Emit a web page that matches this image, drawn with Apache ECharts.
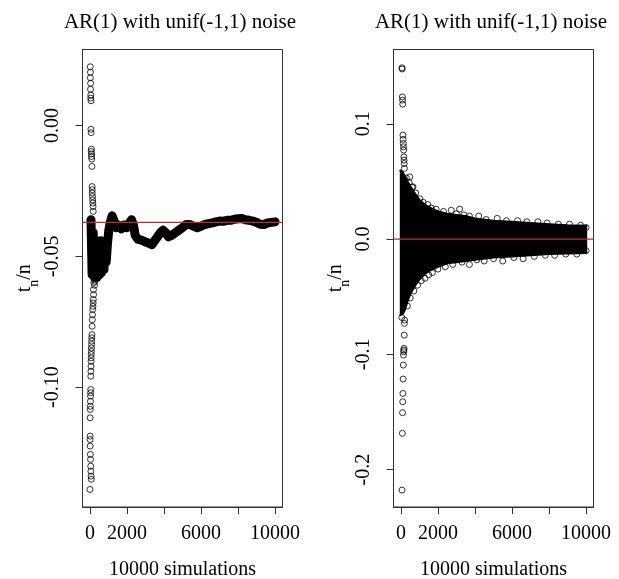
<!DOCTYPE html>
<html>
<head>
<meta charset="utf-8">
<script src="https://cdn.jsdelivr.net/npm/echarts@6/dist/echarts.min.js"></script>
<style>
html,body{margin:0;padding:0;background:#fff;}
#chart{width:619px;height:579px;}
</style>
</head>
<body>
<div id="chart"></div>
<script>
// ---------------- data ----------------
const chartTitle = 'AR(1) with unif(-1,1) noise';
const xAxisTitle = '10000 simulations';
const xTicks = [0, 2000, 4000, 6000, 8000, 10000];
const xTickLabels = [0, 2000, 6000, 10000];
const leftYTicks = [-0.10, -0.05, 0.00];
const rightYTicks = [-0.2, -0.1, 0.0, 0.1];
const leftTrueValue = -0.037;
const rightTrueValue = 0;

// left panel: sparse early running means (column near n = 0)
const leftEarlyX = [20, 30, 25, 40, 35, 50, 45, 60, 55, 70, 80, 75, 90, 85, 100, 110, 120, 130, 125, 140, 150, 160, 170, 180,
  190, 200, 185, 175, 165, 150, 140, 130, 120, 110, 100, 95, 90, 85, 80, 75, 70, 65, 60, 55, 50, 45, 40, 35, 30, 25, 20, 15, 12, 10,
  210, 230, 250, 270, 220, 240];
const leftEarlyY = [0.0225, 0.0204, 0.0183, 0.0162, 0.0139, 0.0117, 0.0105, 0.0095, -0.0014, -0.0027, -0.0090, -0.0099, -0.0108, -0.0118, -0.0128, -0.0156, -0.0233, -0.0245, -0.0258, -0.0271, -0.0284, -0.0296, -0.0309, -0.0328,
  -0.0627, -0.0646, -0.0665, -0.0678, -0.0691, -0.0703, -0.0723, -0.0742, -0.0767, -0.0799, -0.0811, -0.0824, -0.0837, -0.0850, -0.0863, -0.0875, -0.0888, -0.0901, -0.0920, -0.0939, -0.0958, -0.1009, -0.1021, -0.1034, -0.1054, -0.1073, -0.1085, -0.1117, -0.1187, -0.1200,
  -0.0600, -0.0585, -0.0610, -0.0595, -0.0560, -0.0575];
const leftEarlyX2 = [15, 25, 35, 45, 55, 65, 75, 5];
const leftEarlyY2 = [-0.1225, -0.1257, -0.1276, -0.1302, -0.1321, -0.1340, -0.1352, -0.1391];

// left panel: running mean path (dense band)
const leftPathX = [60, 120, 180, 250, 320, 380, 450, 520, 580, 640, 700, 760, 820, 880, 950, 1020, 1100, 1200, 1280, 1400, 1550, 1700, 1850, 2000, 2150, 2250, 2350, 2450, 2600, 2800, 3000, 3200, 3350, 3500, 3650, 3800, 3950, 4100, 4250, 4400, 4600, 4800, 5000, 5200, 5400, 5600, 5800, 6000, 6200, 6400, 6600, 6800, 7000, 7200, 7400, 7600, 7800, 8000, 8200, 8400, 8600, 8800, 9000, 9200, 9400, 9600, 9800, 10000];
const leftPathY = [-0.036, -0.057, -0.041, -0.058, -0.044, -0.058, -0.046, -0.057, -0.044, -0.056, -0.046, -0.055, -0.048, -0.052, -0.045, -0.040, -0.037, -0.0345, -0.036, -0.039, -0.038, -0.0395, -0.038, -0.039, -0.037, -0.036, -0.038, -0.042, -0.0435, -0.0438, -0.0445, -0.045, -0.0455, -0.044, -0.0425, -0.041, -0.040, -0.041, -0.0425, -0.042, -0.041, -0.040, -0.039, -0.0378, -0.0378, -0.0385, -0.039, -0.0385, -0.0378, -0.0375, -0.0372, -0.0368, -0.0365, -0.0366, -0.0362, -0.0362, -0.0358, -0.0356, -0.0355, -0.0360, -0.0362, -0.0365, -0.0370, -0.0377, -0.0378, -0.0372, -0.0370, -0.0368];

// right panel: envelope of the dense cloud
const rightEnvX = [-60, 100, 200, 300, 400, 500, 700, 1000, 1300, 1600, 2000, 2500, 3000, 3500, 4000, 5000, 6000, 7000, 8000, 9000, 10060];
const rightUpper = [0.060, 0.058, 0.055, 0.052, 0.049, 0.046, 0.041, 0.034, 0.030, 0.027, 0.024, 0.022, 0.021, 0.020, 0.018, 0.016, 0.015, 0.014, 0.013, 0.012, 0.0115];
const rightLower = [-0.066, -0.065, -0.062, -0.057, -0.052, -0.048, -0.042, -0.035, -0.030, -0.027, -0.024, -0.021, -0.020, -0.019, -0.018, -0.016, -0.015, -0.014, -0.013, -0.0125, -0.012];

// right panel: sparse early circles
const rightOutX = [60, 70, 80, 90, 100, 110, 120, 130, 140, 150, 160, 170, 180, 190, 480, 650,
  200, 190, 180, 170, 160, 150, 140, 130, 120, 110, 100, 90, 80, 60, 50];
const rightOutY = [0.1486, 0.1476, 0.1234, 0.1206, 0.1171, 0.0902, 0.0865, 0.0830, 0.0801, 0.0772, 0.0714, 0.0685, 0.0656, 0.0613, 0.054, 0.0454,
  -0.0703, -0.0731, -0.0833, -0.0948, -0.0963, -0.0977, -0.1006, -0.1093, -0.1214, -0.1339, -0.1411, -0.1506, -0.1685, -0.2177, -0.0680];

// right panel: circles along the edges of the cloud
const rightEdgeX = [300, 450, 600, 800, 1020, 1200, 1450, 1640, 1900, 2300, 2720, 3000, 3170, 3400, 3700, 4200, 4600, 5200, 5700, 6300, 6800, 7400, 7900, 8500, 9100, 9700, 10000,
  350, 500, 700, 900, 1100, 1300, 1500, 1700, 2000, 2400, 2800, 3300, 3700, 4100, 4500, 5000, 5500, 6100, 6600, 7200, 7800, 8300, 8900, 9500, 10000];
const rightEdgeY = [0.053, 0.049, 0.045, 0.040, 0.035, 0.032, 0.030, 0.027, 0.026, 0.024, 0.025, 0.022, 0.026, 0.021, 0.020, 0.020, 0.017, 0.018, 0.016, 0.016, 0.015, 0.015, 0.014, 0.013, 0.013, 0.012, 0.010,
  -0.058, -0.051, -0.045, -0.040, -0.036, -0.034, -0.031, -0.029, -0.026, -0.024, -0.022, -0.020, -0.022, -0.018, -0.019, -0.017, -0.019, -0.016, -0.017, -0.015, -0.014, -0.014, -0.013, -0.013, -0.010];

// ---------------- chart ----------------
const zip = (a, b) => a.map((v, i) => [v, b[i]]);
const FONT = "'Liberation Serif', 'DejaVu Serif', serif";
const AXC = '#333';
const RED = '#b03232';
const X_MIN = -399, X_MAX = 10400;
const circleStyle = { color: 'rgba(0,0,0,0)', borderColor: '#000', borderWidth: 1 };

function xAxisFor(gi) {
  return {
    type: 'value', gridIndex: gi, min: X_MIN, max: X_MAX,
    name: xAxisTitle, nameLocation: 'middle', nameGap: 53,
    nameTextStyle: { fontFamily: FONT, fontSize: 20, color: '#000' },
    axisLine: { show: true, onZero: false, lineStyle: { color: AXC, width: 1 } },
    axisTick: { show: true, inside: false, length: 7, lineStyle: { color: AXC }, customValues: xTicks },
    axisLabel: { show: true, customValues: xTickLabels, margin: 17, fontFamily: FONT, fontSize: 20, color: '#000',
      formatter: v => String(v) },
    splitLine: { show: false }
  };
}
function yAxisFor(gi, min, max, ticks, digits) {
  return {
    type: 'value', gridIndex: gi, min: min, max: max,
    name: '{t|t}{s|n}{t|/n}',
    nameLocation: 'middle', nameRotate: 90, nameGap: 36,
    nameTextStyle: { fontFamily: FONT, fontSize: 20, color: '#000',
      rich: { t: { fontFamily: FONT, fontSize: 20, color: '#000', verticalAlign: 'top', lineHeight: 22 },
              s: { fontFamily: FONT, fontSize: 14, color: '#000', verticalAlign: 'top', lineHeight: 14, padding: [13, 0, 0, 0] } } },
    axisLine: { show: true, onZero: false, lineStyle: { color: AXC, width: 1 } },
    axisTick: { show: true, inside: false, length: 7, lineStyle: { color: AXC }, customValues: ticks },
    axisLabel: { show: true, customValues: ticks, rotate: 90, margin: 20, fontFamily: FONT, fontSize: 20, color: '#000',
      formatter: v => Number(v).toFixed(digits) },
    splitLine: { show: false }
  };
}

const gridBase = { top: 49.5, width: 200, height: 457.5, show: true, borderColor: AXC, borderWidth: 1,
  backgroundColor: 'transparent', containLabel: false, outerBoundsMode: 'none' };

const option = {
  animation: false,
  backgroundColor: '#fff',
  title: [
    { text: chartTitle, left: 175, top: 7, textAlign: 'center',
      textStyle: { fontFamily: FONT, fontSize: 21, fontWeight: 'normal', color: '#000' } },
    { text: chartTitle, left: 486, top: 7, textAlign: 'center',
      textStyle: { fontFamily: FONT, fontSize: 21, fontWeight: 'normal', color: '#000' } }
  ],
  grid: [
    Object.assign({ left: 82.5 }, gridBase),
    Object.assign({ left: 393.5 }, gridBase)
  ],
  xAxis: [xAxisFor(0), xAxisFor(1)],
  yAxis: [
    yAxisFor(0, -0.1458, 0.0291, leftYTicks, 2),
    yAxisFor(1, -0.2324, 0.1645, rightYTicks, 1)
  ],
  series: [
    { type: 'line', xAxisIndex: 0, yAxisIndex: 0, data: zip(leftPathX, leftPathY), showSymbol: false,
      lineStyle: { color: '#000', width: 9, join: 'round', cap: 'round' }, silent: true, z: 2 },
    { type: 'scatter', xAxisIndex: 0, yAxisIndex: 0, data: zip(leftEarlyX, leftEarlyY).concat(zip(leftEarlyX2, leftEarlyY2)),
      symbol: 'circle', symbolSize: 6, itemStyle: circleStyle, silent: true, z: 5 },
    { type: 'line', xAxisIndex: 1, yAxisIndex: 1, data: zip(rightEnvX, rightUpper), showSymbol: false,
      lineStyle: { color: '#000', width: 2 }, areaStyle: { color: '#000', opacity: 1, origin: 'auto' }, silent: true, z: 2 },
    { type: 'line', xAxisIndex: 1, yAxisIndex: 1, data: zip(rightEnvX, rightLower), showSymbol: false,
      lineStyle: { color: '#000', width: 2 }, areaStyle: { color: '#000', opacity: 1, origin: 'auto' }, silent: true, z: 2 },
    { type: 'scatter', xAxisIndex: 1, yAxisIndex: 1, data: zip(rightOutX, rightOutY).concat(zip(rightEdgeX, rightEdgeY)),
      symbol: 'circle', symbolSize: 6, itemStyle: circleStyle, silent: true, z: 5 },
    { type: 'line', xAxisIndex: 0, yAxisIndex: 0, data: [[X_MIN, leftTrueValue], [X_MAX, leftTrueValue]], showSymbol: false,
      lineStyle: { color: RED, width: 1.3 }, silent: true, z: 20 },
    { type: 'line', xAxisIndex: 1, yAxisIndex: 1, data: [[X_MIN, rightTrueValue], [X_MAX, rightTrueValue]], showSymbol: false,
      lineStyle: { color: RED, width: 1.3 }, silent: true, z: 20 }
  ]
};

const chart = echarts.init(document.getElementById('chart'), null, { renderer: 'canvas' });
chart.setOption(option);
</script>
</body>
</html>
